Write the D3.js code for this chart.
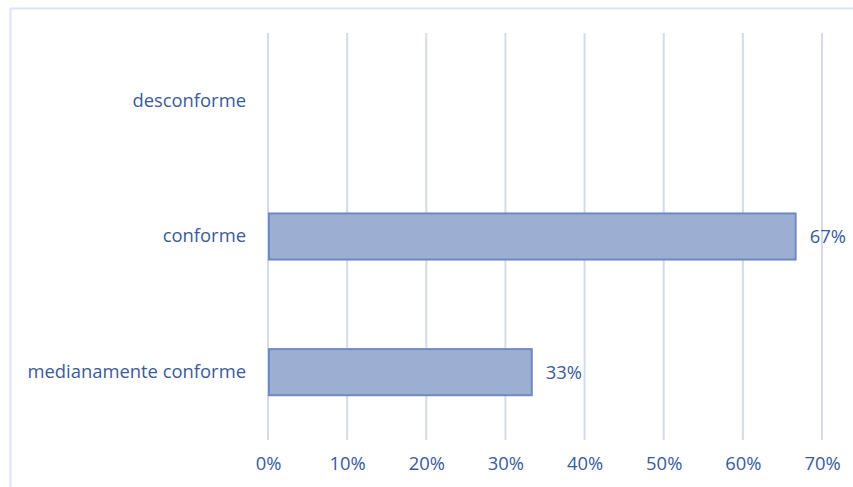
<!DOCTYPE html>
<html>
<head>
<meta charset="utf-8">
<script src="https://cdn.jsdelivr.net/npm/d3@7"></script>
<style>
  body { margin: 0; background: #fff; }
  svg { display: block; font-family: "Open Sans", sans-serif; }
</style>
</head>
<body>
<div id="chart"></div>
<script>
// data, top to bottom
const categories = ["desconforme", "conforme", "medianamente conforme"];
const values = [null, 0.6667, 0.3333];
const valueLabels = ["", "67%", "33%"];
const tickValues = [0, 0.1, 0.2, 0.3, 0.4, 0.5, 0.6, 0.7];

const width = 853, height = 487;
const margin = { top: 33, right: 31, bottom: 47, left: 268 };

const textColor = "#3A5A9C";
const gridColor = "#D3DBEA";
const font = "'Open Sans', sans-serif";
const fontSize = 18.4;

const svg = d3.select("#chart").append("svg")
    .attr("width", width)
    .attr("height", height);

// chart frame
svg.append("rect")
    .attr("x", 10.5).attr("y", 8.5)
    .attr("width", width + 20).attr("height", height + 20)
    .attr("fill", "none")
    .attr("stroke", "#DCE3F0")
    .attr("stroke-width", 2);

const x = d3.scaleLinear()
    .domain([0, 0.7])
    .range([margin.left, width - margin.right]);

const y = d3.scaleBand()
    .domain(categories)
    .range([margin.top, height - margin.bottom])
    .paddingInner(0.66)
    .paddingOuter(0.33);

// gridlines
svg.append("g")
    .selectAll("line")
    .data(tickValues)
    .join("line")
    .attr("x1", d => x(d)).attr("x2", d => x(d))
    .attr("y1", margin.top).attr("y2", height - margin.bottom)
    .attr("stroke", gridColor)
    .attr("stroke-width", 2);

// x axis labels
const xAxis = d3.axisBottom(x)
    .tickValues(tickValues)
    .tickFormat(d3.format(".0%"))
    .tickSize(0)
    .tickPadding(0);

svg.append("g")
    .attr("transform", `translate(0,${height - margin.bottom + 17})`)
    .call(xAxis)
    .call(g => g.select(".domain").remove())
    .selectAll("text")
    .attr("fill", textColor)
    .attr("font-size", fontSize)
    .attr("font-family", font);

// category labels
const yAxis = d3.axisLeft(y).tickSize(0).tickPadding(22);
svg.append("g")
    .attr("transform", `translate(${margin.left},0)`)
    .call(yAxis)
    .call(g => g.select(".domain").remove())
    .selectAll("text")
    .attr("fill", textColor)
    .attr("font-size", fontSize)
    .attr("font-family", font);

const rows = categories.map((c, i) => ({ cat: c, value: values[i], label: valueLabels[i] }))
    .filter(d => d.value != null);

// bars
svg.append("g")
    .selectAll("rect")
    .data(rows)
    .join("rect")
    .attr("x", x(0) + 1)
    .attr("y", d => y(d.cat))
    .attr("width", d => x(d.value) - x(0) - 1)
    .attr("height", y.bandwidth())
    .attr("fill", "#9CAED2")
    .attr("stroke", "#6E8AC2")
    .attr("stroke-width", 2);

// value labels
svg.append("g")
    .selectAll("text")
    .data(rows)
    .join("text")
    .attr("x", d => x(d.value) + 14)
    .attr("y", d => y(d.cat) + y.bandwidth() / 2)
    .attr("dy", "0.35em")
    .attr("fill", textColor)
    .attr("font-size", fontSize)
    .attr("font-family", font)
    .text(d => d.label);
</script>
</body>
</html>
